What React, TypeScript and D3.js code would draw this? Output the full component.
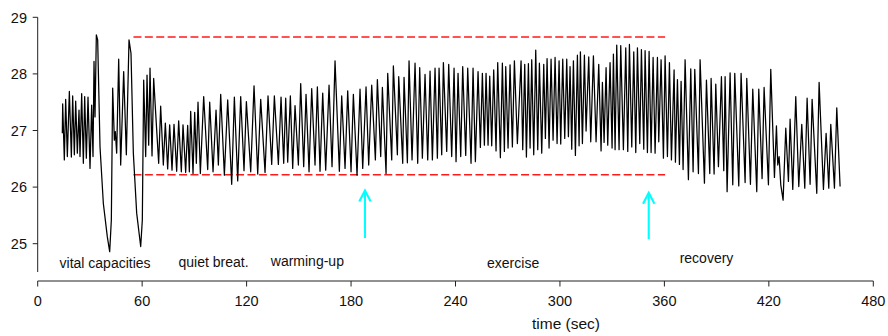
import React from 'react';
import * as d3 from 'd3';

const W = 888;
const H = 336;

const xTicks = [0, 60, 120, 180, 240, 300, 360, 420, 480];
const yTicks = [25, 26, 27, 28, 29];

// [time (s), value] extremes
const vitalCapacities: [number, number][] = [
  [14.15, 26.95], [14.35, 27.47], [15.3, 26.48], [16.07, 27.55], [17.03, 26.54], [18.18, 27.69], [19.33, 26.53],
  [20.09, 27.61], [21.05, 26.57], [21.82, 27.52], [22.77, 26.6], [23.73, 27.36], [24.3, 26.54], [25.26, 27.65],
  [26.22, 26.42], [26.99, 27.6], [27.94, 26.51], [28.9, 27.59], [30.05, 26.33], [31.0, 27.45], [31.77, 26.54],
  [32.35, 28.22], [32.92, 27.24], [33.69, 28.69], [34.45, 28.6], [35.8, 26.71], [37.71, 25.71], [40.0, 25.12],
  [41.35, 24.86], [42.3, 25.42], [43.07, 27.75], [44.03, 26.83], [44.6, 26.98], [45.37, 26.6], [46.52, 28.26],
  [47.67, 26.39], [49.39, 28.04], [50.92, 26.57], [52.45, 28.6], [53.6, 28.36], [54.94, 26.6], [56.86, 25.54],
  [59.16, 24.95], [60.1, 25.42], [60.88, 27.89], [62.03, 26.54], [62.8, 27.98], [63.75, 26.74], [64.52, 28.1],
  [65.67, 26.55],
];

const quietBreathing: [number, number][] = [
  [66.62, 27.92], [67.96, 27.21], [69.49, 26.42], [70.64, 27.43], [72.17, 26.39], [73.32, 27.13], [74.66, 26.32],
  [75.81, 27.1], [77.15, 26.3], [78.3, 27.11], [79.83, 26.28], [80.98, 27.17], [82.51, 26.27], [83.47, 27.1],
  [85.0, 26.26], [86.15, 27.09], [87.11, 26.27], [87.88, 27.34], [89.22, 26.24], [90.18, 27.32], [91.13, 26.42],
  [92.09, 27.5], [93.43, 26.24], [95.35, 27.6], [97.65, 26.31], [98.8, 27.5], [100.72, 26.27], [102.44, 27.36],
  [103.78, 26.39], [105.12, 27.64], [107.23, 26.21], [109.14, 27.54], [111.44, 26.05], [112.97, 27.59],
  [114.89, 26.11], [116.61, 27.6], [118.52, 26.29], [119.87, 27.51], [122.36, 26.27], [124.27, 27.79],
  [126.38, 26.23], [128.1, 27.55], [130.59, 26.26], [132.31, 27.61], [134.42, 26.4], [135.95, 27.61],
  [138.25, 26.4], [139.78, 27.59], [141.31, 26.42], [142.46, 27.57], [143.61, 26.44], [145.14, 27.61],
  [146.48, 26.33], [147.82, 27.44], [149.74, 26.39], [151.08, 27.83], [152.8, 26.36], [154.14, 27.64],
  [155.87, 26.27],
];

const warmingUp: [number, number][] = [
  [157.4, 27.74], [159.31, 26.39], [160.65, 27.77], [162.18, 26.28], [163.72, 27.66], [165.44, 26.3],
  [167.36, 27.8], [169.08, 26.36], [170.8, 28.23], [173.29, 26.28], [174.63, 27.61], [176.55, 26.33],
  [178.08, 27.7], [180.0, 26.27], [181.33, 27.64], [183.44, 26.21], [185.16, 27.73], [186.7, 26.33],
  [188.61, 27.77], [190.14, 26.39], [191.87, 27.8], [193.97, 26.48], [195.12, 27.9], [197.04, 26.54],
  [198.0, 27.76], [200.1, 26.24], [201.06, 28.01], [203.36, 26.48], [204.31, 28.14], [206.61, 26.57],
  [207.38, 27.95], [209.68, 26.42], [210.44, 27.94], [212.36, 26.43], [213.31, 28.23], [215.04, 26.48],
];

const exercise: [number, number][] = [
  [216.76, 28.19], [218.29, 26.42], [219.44, 28.11], [220.97, 26.51], [222.5, 27.99], [224.04, 26.48],
  [225.38, 28.05], [226.72, 26.48], [228.25, 28.1], [229.59, 26.51], [230.55, 28.1], [232.08, 26.57],
  [233.04, 28.2], [234.95, 26.63], [236.1, 28.17], [237.82, 26.54], [239.17, 28.1], [240.31, 26.45],
  [241.46, 28.01], [243.0, 26.54], [244.14, 28.13], [245.87, 26.56], [247.02, 28.1], [248.93, 26.42],
  [250.08, 28.1], [251.42, 26.45], [252.95, 28.04], [254.29, 26.7], [255.44, 28.01], [256.59, 26.74],
  [257.55, 28.01], [258.7, 26.74], [259.66, 27.96], [260.8, 26.73], [261.95, 28.07], [263.29, 26.64],
  [264.25, 28.2], [265.78, 26.52], [266.93, 28.19], [268.08, 26.63], [268.85, 28.13], [270.19, 26.69],
  [271.34, 28.16], [272.68, 26.71], [273.83, 28.23], [275.55, 26.77],
  [277.66, 28.23], [278.62, 26.66], [279.77, 28.17], [280.73, 26.53], [281.88, 28.18], [282.84, 26.69],
  [283.79, 28.25], [284.94, 26.57], [286.09, 28.42], [287.24, 26.66], [288.2, 28.19], [289.54, 26.6],
  [290.69, 28.17], [291.64, 26.86], [292.6, 28.27], [293.75, 26.69], [294.9, 28.26], [296.05, 26.83],
  [297.2, 28.29], [298.35, 26.77], [299.5, 28.23], [300.45, 26.76], [301.6, 28.26], [302.75, 26.86],
  [303.9, 28.26], [304.86, 26.89], [305.81, 28.13], [306.77, 26.67], [307.73, 28.23], [308.88, 26.56],
  [310.03, 28.33], [310.99, 26.73], [311.75, 28.39], [312.9, 26.77], [314.05, 28.33], [315.01, 26.99],
  [316.54, 28.3], [317.69, 26.8], [319.22, 28.32], [320.75, 26.8], [322.28, 28.17], [323.62, 26.64],
  [324.39, 27.85], [325.35, 26.79], [326.5, 28.11], [327.45, 26.74], [328.79, 28.2], [329.94, 26.69],
  [330.71, 28.35], [331.67, 26.66], [332.62, 28.51], [333.96, 26.66], [334.92, 28.5], [336.45, 26.66],
  [337.8, 28.46], [338.95, 26.63], [339.91, 28.52], [341.25, 26.71], [342.4, 28.39], [343.55, 26.61],
  [344.51, 28.46], [345.85, 26.77], [346.8, 28.43], [348.14, 26.67], [348.91, 28.41], [350.25, 26.61],
  [351.21, 28.4], [352.36, 26.61], [353.51, 28.29], [354.65, 26.6], [356.0, 28.29], [356.76, 26.8],
  [358.1, 28.25], [359.44, 26.51],
];

const recovery: [number, number][] = [
  [360.4, 28.32], [361.74, 26.54], [362.89, 28.2], [364.04, 26.48], [365.57, 28.07], [366.34, 26.44],
  [367.49, 27.9], [368.63, 26.4], [369.59, 27.87], [370.74, 26.31], [371.89, 28.25], [373.8, 26.13],
  [375.14, 28.09], [376.49, 26.27], [377.44, 28.08], [379.55, 26.24], [380.51, 28.25], [383.0, 26.07],
  [384.15, 27.89], [386.06, 26.24], [386.83, 27.92], [388.55, 26.23], [389.51, 27.82], [391.04, 26.36],
  [392.76, 27.95], [394.1, 26.29], [394.87, 27.95], [396.02, 25.92], [397.74, 28.02],
  [399.27, 26.04], [400.42, 28.01], [402.72, 26.02], [404.06, 28.01], [406.36, 26.08], [407.32, 27.92],
  [409.42, 26.05], [410.76, 27.73], [413.06, 25.92], [414.21, 27.73], [416.12, 26.15], [417.27, 27.76],
  [419.76, 26.04], [421.1, 28.08], [423.21, 26.17], [424.36, 27.08], [425.12, 26.39], [425.89, 26.54],
  [426.85, 26.04], [428.19, 25.77], [429.72, 27.04], [431.25, 26.1], [432.21, 27.2], [433.74, 25.96],
  [435.46, 27.6], [437.19, 26.01], [438.91, 27.11], [440.64, 25.98], [441.98, 27.57], [443.7, 26.05],
  [444.85, 27.55], [447.53, 25.89], [448.87, 27.85], [451.36, 25.96], [452.89, 26.95], [454.42, 25.98],
  [455.57, 27.11], [457.68, 25.98], [459.02, 27.4], [460.93, 26.01],
];

// reference range lines
const limitLevels = [28.65, 26.22];
const limitSpan = [55, 360.4];

// cyan markers
const arrowTimes = [188, 351];
const arrowTips = [25.94, 25.9];
const arrowTails = [25.1, 25.08];

// phase annotations
const phaseLabels = ['vital capacities', 'quiet breat.', 'warming-up', 'exercise', 'recovery'];
const phaseLabelTimes = [38.7, 101.0, 154.9, 273.1, 384.2];
const phaseLabelLevels = [24.57, 24.59, 24.61, 24.57, 24.66];

const xTitle = 'time (sec)';

const FONT = "'Liberation Sans', Arial, Helvetica, sans-serif";

export default function App() {
  const x = d3.scaleLinear().domain([0, 480]).range([37.7, 873.3]);
  const y = d3.scaleLinear().domain([24.5, 29]).range([272, 17.3]);
  const xAxisY = 281;
  const yAxisX = 37.7;

  const signal = [...vitalCapacities, ...quietBreathing, ...warmingUp, ...exercise, ...recovery];
  const line = d3
    .line<[number, number]>()
    .x((d) => x(d[0]))
    .y((d) => y(d[1]));

  return (
    <svg
      width={W}
      height={H}
      style={{ position: 'absolute', left: 0, top: 0, display: 'block', background: '#fff' }}
      fontFamily={FONT}
    >
      {/* y axis */}
      <line x1={yAxisX} x2={yAxisX} y1={y(29)} y2={y(24.5)} stroke="#222" strokeWidth={1} />
      {yTicks.map((t) => (
        <g key={`y${t}`}>
          <line x1={yAxisX - 5} x2={yAxisX} y1={y(t)} y2={y(t)} stroke="#222" strokeWidth={1} />
          <text x={27} y={y(t)} dy="0.36em" textAnchor="end" fontSize={14.5} fill="#111">
            {t}
          </text>
        </g>
      ))}

      {/* x axis */}
      <line x1={x(0)} x2={x(480)} y1={xAxisY} y2={xAxisY} stroke="#222" strokeWidth={1} />
      {xTicks.map((t) => (
        <g key={`x${t}`}>
          <line x1={x(t)} x2={x(t)} y1={xAxisY} y2={xAxisY + 5.5} stroke="#222" strokeWidth={1} />
          <text x={x(t)} y={306} textAnchor="middle" fontSize={14.5} fill="#111">
            {t}
          </text>
        </g>
      ))}
      <text x={566} y={329} textAnchor="middle" fontSize={15.5} fill="#111">
        {xTitle}
      </text>

      {/* red dashed range lines */}
      {limitLevels.map((v, i) => (
        <line
          key={`lim${i}`}
          x1={x(limitSpan[0])}
          x2={x(limitSpan[1])}
          y1={y(v)}
          y2={y(v)}
          stroke="#ff1a1a"
          strokeWidth={1.5}
          strokeDasharray="8,3.4"
        />
      ))}

      {/* signal */}
      <path
        d={line(signal) || ''}
        fill="none"
        stroke="#000"
        strokeWidth={1.25}
        strokeLinejoin="round"
      />

      {/* cyan arrows */}
      {arrowTimes.map((t, i) => {
        const ax = x(t);
        const tip = y(arrowTips[i]);
        const tail = y(arrowTails[i]);
        return (
          <g key={`arr${i}`} stroke="#00ffff" strokeWidth={2.1} fill="none">
            <line x1={ax} x2={ax} y1={tail} y2={tip + 1} />
            <polyline points={`${ax - 5.7},${tip + 11} ${ax},${tip} ${ax + 5.7},${tip + 11}`} />
          </g>
        );
      })}

      {/* phase labels */}
      {phaseLabels.map((label, i) => (
        <text
          key={label}
          x={x(phaseLabelTimes[i])}
          y={y(phaseLabelLevels[i])}
          textAnchor="middle"
          fontSize={14}
          fill="#111"
        >
          {label}
        </text>
      ))}
    </svg>
  );
}
